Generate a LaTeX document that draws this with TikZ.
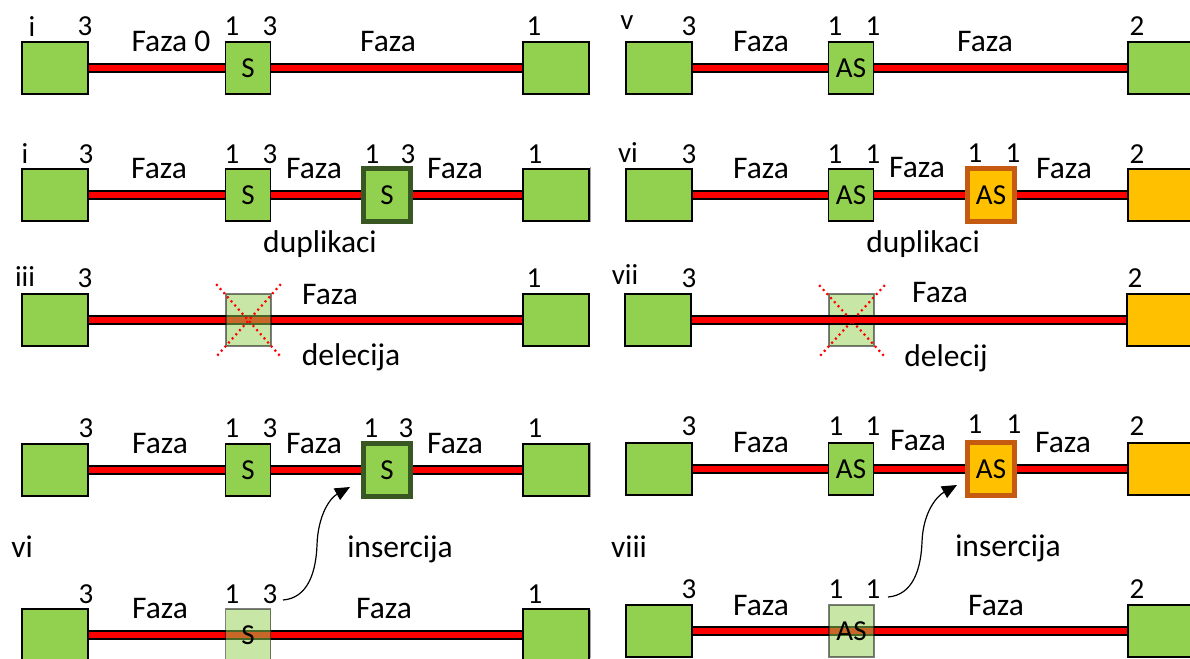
\documentclass[tikz,border=0pt]{standalone}
\usepackage{fontspec}
\setmainfont{Carlito}
\usetikzlibrary{arrows.meta,calc}
\definecolor{lgreen}{HTML}{92D050}
\definecolor{dgreen}{HTML}{385723}
\definecolor{gold}{HTML}{FFC000}
\definecolor{rust}{HTML}{C55A11}
\pgfdeclarelayer{bg}
\pgfsetlayers{bg,main}
\tikzset{
  big/.style={draw=black, line width=1.6pt, fill=lgreen, minimum width=66pt, minimum height=52pt, inner sep=0pt},
  bigo/.style={big, fill=gold},
  small/.style={draw=black, line width=1.6pt, fill=lgreen, minimum width=45pt, minimum height=52pt, inner sep=0pt, font=\fontsize{29}{32}\selectfont},
  dupg/.style={small, draw=dgreen, line width=5pt, minimum width=47pt, minimum height=53pt},
  dupo/.style={dupg, draw=rust, fill=gold},
  faded/.style={small, fill opacity=0.5, draw opacity=0.5, text opacity=1},
  num/.style={anchor=base, font=\fontsize{29}{32}\selectfont, inner sep=0pt},
  lbl/.style={anchor=base, font=\fontsize{31.5}{34}\selectfont, inner sep=0pt},
  barb/.style={line width=10pt, black},
  barr/.style={line width=6pt, red},
  xline/.style={red, line width=2.2pt, dash pattern=on 2pt off 3.5pt},
  ins/.style={-{Triangle[length=15pt,width=13pt]}, line width=1.2pt},
  crop/.style={black!35, line width=1pt}
}
\newcommand\fazabar[2]{\draw[barb] (#1.east) -- (#2.west); \draw[barr] (#1.east) -- (#2.west);}
\begin{document}
\begin{tikzpicture}[x=1pt,y=-1pt]
\useasboundingbox (0,0) rectangle (1190,658);
\clip (0,0) rectangle (1190,658);

% ---------------- Row 1 ----------------
\node[big] (l1a) at (55,68) {};
\node[small] (l1s) at (248,68) {S};
\node[big] (l1b) at (556,68) {};
\node[big] (r1a) at (659,68) {};
\node[small] (r1s) at (851,68) {AS};
\node[big] (r1b) at (1161,68) {};
\node[num] (t1a) at (32,37) {i};
\node[num] (t1b) at (85,36) {3};
\node[lbl] (t1c) at (171,52) {Faza 0};
\node[num] (t1d) at (232,36) {1};
\node[num] (t1e) at (270,36) {3};
\node[lbl] (t1f) at (388,52) {Faza};
\node[num] (t1g) at (534,36) {1};
\node[num] (u1a) at (627,30) {v};
\node[num] (u1b) at (689,36) {3};
\node[lbl] (u1c) at (761,52) {Faza};
\node[num] (u1d) at (835,36) {1};
\node[num] (u1e) at (873,36) {1};
\node[lbl] (u1f) at (985,52) {Faza};
\node[num] (u1g) at (1137,36) {2};

% ---------------- Row 2 ----------------
\node[big] (l2a) at (55,195) {};
\node[small] (l2s) at (248,195) {S};
\node[dupg] (l2d) at (387,195) {S};
\node[big] (l2b) at (556,195) {};
\node[big] (r2a) at (659,195) {};
\node[small] (r2s) at (851,195) {AS};
\node[dupo] (r2d) at (991,195) {AS};
\node[bigo] (r2b) at (1161,195) {};
\node[num] (t2a) at (25,163) {i};
\node[num] (t2b) at (86,163) {3};
\node[lbl] (t2c) at (159,178) {Faza};
\node[num] (t2d) at (232,163) {1};
\node[num] (t2e) at (270,163) {3};
\node[lbl] (t2f) at (314,178) {Faza};
\node[num] (t2g) at (372,163) {1};
\node[num] (t2h) at (408,163) {3};
\node[lbl] (t2i) at (455,178) {Faza};
\node[num] (t2j) at (535,163) {1};
\node[lbl] (t2k) at (320,252) {duplikaci};
\node[num] (u2a) at (628,162) {vi};
\node[num] (u2b) at (689,163) {3};
\node[lbl] (u2c) at (761,178) {Faza};
\node[num] (u2d) at (835,163) {1};
\node[num] (u2e) at (873,163) {1};
\node[lbl] (u2f) at (917,177) {Faza};
\node[num] (u2g) at (975,162) {1};
\node[num] (u2h) at (1013,162) {1};
\node[lbl] (u2i) at (1064,178) {Faza};
\node[num] (u2j) at (1137,163) {2};
\node[lbl] (u2k) at (923,252) {duplikaci};

% ---------------- Row 3 ----------------
\node[big] (l3a) at (55,320) {};
\node[big] (l3b) at (556,320) {};
\node[big] (r3a) at (658,320) {};
\node[bigo] (r3b) at (1160,320) {};
\node[num] (t3a) at (25,286) {iii};
\node[num] (t3b) at (85,287) {3};
\node[lbl] (t3c) at (330,304) {Faza};
\node[lbl] (t3d) at (351,365) {delecija};
\node[num] (t3e) at (534,287) {1};
\node[num] (u3a) at (625,284) {vii};
\node[num] (u3b) at (689,287) {3};
\node[lbl] (u3c) at (940,302) {Faza};
\node[lbl] (u3d) at (946,366) {delecij};
\node[num] (u3e) at (1135,287) {2};

% ---------------- Row 4 ----------------
\node[big] (l4a) at (55,470) {};
\node[small] (l4s) at (248,470) {S};
\node[dupg] (l4d) at (387,470) {S};
\node[big] (l4b) at (556,470) {};
\node[big] (r4a) at (659,469) {};
\node[small] (r4s) at (851,469) {AS};
\node[dupo] (r4d) at (991,469) {AS};
\node[bigo] (r4b) at (1161,469) {};
\node[num] (t4b) at (86,437) {3};
\node[lbl] (t4c) at (160,453) {Faza};
\node[num] (t4d) at (232,437) {1};
\node[num] (t4e) at (270,437) {3};
\node[lbl] (t4f) at (314,453) {Faza};
\node[num] (t4g) at (371,437) {1};
\node[num] (t4h) at (406,437) {3};
\node[lbl] (t4i) at (455,453) {Faza};
\node[num] (t4j) at (535,437) {1};
\node[num] (u4b) at (689,435) {3};
\node[lbl] (u4c) at (761,452) {Faza};
\node[num] (u4d) at (836,435) {1};
\node[num] (u4e) at (873,435) {1};
\node[lbl] (u4f) at (918,450) {Faza};
\node[num] (u4g) at (975,433) {1};
\node[num] (u4h) at (1014,433) {1};
\node[lbl] (u4i) at (1063,452) {Faza};
\node[num] (u4j) at (1137,435) {2};
\node[lbl] (m4a) at (22,557) {vi};
\node[lbl] (m4b) at (400,557) {insercija};
\node[lbl] (m4c) at (629,557) {viii};
\node[lbl] (m4d) at (1008,556) {insercija};

% ---------------- Row 5 ----------------
\node[big] (l5a) at (55,635) {};
\node[big] (l5b) at (556,635) {};
\node[big] (r5a) at (659,631) {};
\node[big] (r5b) at (1161,631) {};
\node[num] (t5b) at (86,603) {3};
\node[lbl] (t5c) at (160,618) {Faza};
\node[num] (t5d) at (232,603) {1};
\node[num] (t5e) at (270,603) {3};
\node[lbl] (t5f) at (384,618) {Faza};
\node[num] (t5g) at (535,603) {1};
\node[num] (u5b) at (689,598) {3};
\node[lbl] (u5c) at (761,615) {Faza};
\node[num] (u5d) at (836,598) {1};
\node[num] (u5e) at (873,598) {1};
\node[lbl] (u5f) at (996,615) {Faza};
\node[num] (u5g) at (1137,598) {2};

% ---------------- bars (behind boxes) ----------------
\begin{pgfonlayer}{bg}
\fazabar{l1a}{l1s} \fazabar{l1s}{l1b}
\fazabar{r1a}{r1s} \fazabar{r1s}{r1b}
\fazabar{l2a}{l2s} \fazabar{l2s}{l2d} \fazabar{l2d}{l2b}
\fazabar{r2a}{r2s} \fazabar{r2s}{r2d} \fazabar{r2d}{r2b}
\fazabar{l3a}{l3b}
\node[faded] (r3f) at (851.5,320) {};
\fazabar{r3a}{r3b}
\fazabar{l4a}{l4s} \fazabar{l4s}{l4d} \fazabar{l4d}{l4b}
\fazabar{r4a}{r4s} \fazabar{r4s}{r4d} \fazabar{r4d}{r4b}
\fazabar{l5a}{l5b}
\fazabar{r5a}{r5b}
\end{pgfonlayer}

% ---------------- faded boxes on top of bars ----------------
\node[faded] (l3f) at (248.5,320) {};
\node[faded] (l5f) at (248,635) {S};
\node[faded] (r5f) at (851.5,631) {AS};

% deletion crosses
\draw[xline] ($(l3f.north west)+(-9,-9)$) -- ($(l3f.south east)+(9,10)$);
\draw[xline] ($(l3f.north east)+(9,-9)$) -- ($(l3f.south west)+(-9,10)$);
\draw[xline] ($(r3f.north west)+(-9,-8)$) -- ($(r3f.south east)+(10,10)$);
\draw[xline] ($(r3f.north east)+(10,-8)$) -- ($(r3f.south west)+(-9,10)$);

% insertion arrows
\coordinate (a1s) at (283,600);
\coordinate (a1e) at (350,487);
\coordinate (a2s) at (888,597);
\coordinate (a2e) at (957,485);
\draw[ins] (a1s) .. controls (308,598) and (316,572) .. (317,545) .. controls (318,515) and (330,498) .. (a1e);
\draw[ins] (a2s) .. controls (913,595) and (921,569) .. (922,542) .. controls (923,512) and (937,496) .. (a2e);

% crop edges
\draw[crop] (590,167) -- (590,222);
\draw[crop] (590,442) -- (590,497);
\draw[crop] (590,610) -- (590,658);
\end{tikzpicture}
\end{document}
